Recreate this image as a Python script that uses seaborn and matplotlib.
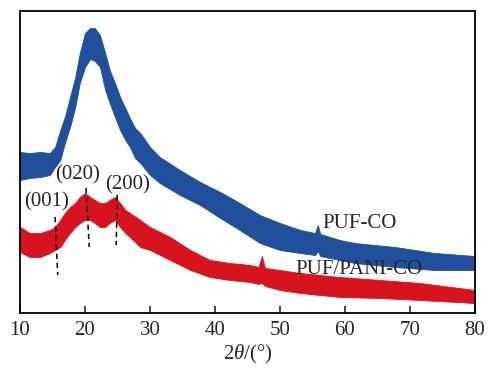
import numpy as np
import pandas as pd
import matplotlib
matplotlib.use("Agg")
import matplotlib.pyplot as plt
import seaborn as sns

# ---- data (2theta in degrees, intensity in arbitrary units) ----
blue_theta = [10.0, 11.5, 13.1, 14.6, 15.4, 16.2, 16.9, 17.7, 18.5, 19.2, 20.0, 20.8, 21.5,
              22.3, 23.1, 23.8, 24.6, 25.4, 26.2, 26.9, 27.7, 28.5, 30.0, 31.5, 34.6, 37.7,
              40.8, 43.8, 46.9, 50.0, 53.1, 55.4, 55.8, 56.2, 59.2, 61.5, 67.7, 73.8, 80.0]
blue_high = [161, 160, 161, 160, 166, 183, 196, 216, 236, 260, 280, 285, 285,
             278, 260, 243, 230, 216, 205, 195, 185, 180, 166, 156, 143, 131,
             121, 110, 98, 90, 83, 80, 88, 79, 73, 70, 66, 60, 57]
blue_low = [133, 135, 136, 138, 146, 153, 170, 186, 206, 230, 246, 254, 252,
            246, 223, 210, 196, 183, 173, 166, 155, 150, 138, 130, 118, 108,
            95, 83, 70, 63, 60, 58, 62, 57, 53, 50, 46, 43, 43]

red_theta = [10.0, 11.5, 13.1, 14.6, 15.4, 16.2, 16.9, 17.7, 18.5, 19.2, 20.0, 20.8, 21.5,
             22.3, 23.1, 23.8, 24.6, 25.4, 26.2, 26.9, 28.5, 30.0, 33.1, 36.2, 39.2, 42.3,
             45.4, 46.7, 47.2, 47.7, 50.0, 53.1, 59.2, 65.4, 71.5, 80.0]
red_high = [86, 80, 80, 83, 86, 93, 100, 106, 110, 116, 120, 116, 113,
            110, 110, 113, 116, 110, 103, 100, 93, 86, 76, 63, 53, 50,
            48, 46, 57, 45, 43, 40, 36, 33, 30, 23]
red_low = [61, 56, 56, 60, 63, 66, 73, 80, 86, 90, 93, 93, 90,
           86, 86, 90, 93, 86, 80, 76, 66, 63, 53, 43, 36, 33,
           31, 29, 30, 27, 23, 20, 16, 15, 13, 10]

peak_labels = ["(001)", "(020)", "(200)"]
peak_x_top = [15.4, 20.15, 24.95]
peak_x_bot = [15.8, 20.65, 24.8]
peak_y_top = [96, 125, 118]
peak_y_bot = [38, 66, 68]
peak_label_xy = [(14.1, 111), (18.8, 138), (26.6, 128)]

series_labels = ["PUF-CO", "PUF/PANI-CO"]
series_label_xy = [(62.2, 89), (62.1, 43)]
x_ticks = [10, 20, 30, 40, 50, 60, 70, 80]

BLUE = "#204f9c"
RED = "#d7141e"
FS = 15

sns.set_style("ticks")
plt.rcParams["font.family"] = ["Liberation Serif", "DejaVu Serif"]
plt.rcParams["mathtext.fontset"] = "custom"
plt.rcParams["mathtext.rm"] = "Liberation Serif"
plt.rcParams["mathtext.it"] = "Liberation Serif:italic"

fig = plt.figure(figsize=(4.89, 3.69), dpi=100)
ax = fig.add_axes([20 / 489, 1 - 313 / 369, 455 / 489, 302 / 369])

df_b = pd.DataFrame({"t": blue_theta, "y": (np.array(blue_high) + np.array(blue_low)) / 2})
df_r = pd.DataFrame({"t": red_theta, "y": (np.array(red_high) + np.array(red_low)) / 2})

ax.fill_between(blue_theta, blue_low, blue_high, color=BLUE, lw=0.6, edgecolor=BLUE)
ax.fill_between(red_theta, red_low, red_high, color=RED, lw=0.6, edgecolor=RED)
sns.lineplot(data=df_b, x="t", y="y", ax=ax, color=BLUE, lw=1.0)
sns.lineplot(data=df_r, x="t", y="y", ax=ax, color=RED, lw=1.0)

for xt, xb, yt, yb in zip(peak_x_top, peak_x_bot, peak_y_top, peak_y_bot):
    ax.plot([xt, xb], [yt, yb], color="black", lw=1.1, ls=(0, (3.5, 2.5)))
for lab, (x, y) in zip(peak_labels, peak_label_xy):
    ax.text(x, y, lab, fontsize=FS, ha="center", va="center")
for lab, (x, y) in zip(series_labels, series_label_xy):
    ax.text(x, y, lab, fontsize=FS, ha="center", va="center")

ax.set_xlim(10, 80)
ax.set_ylim(0, 302)
ax.set_xticks(x_ticks)
ax.set_xticklabels([str(v) for v in x_ticks], fontsize=FS)
ax.set_yticks([])
ax.set_xlabel(r"2$\mathit{\theta}$/(°)", fontsize=FS, labelpad=2)
ax.set_ylabel("")
ax.tick_params(axis="x", direction="in", length=5, width=1.2, pad=6)
for s in ax.spines.values():
    s.set_visible(True)
    s.set_linewidth(1.3)
    s.set_color("black")

fig.savefig("out.png", dpi=100)
